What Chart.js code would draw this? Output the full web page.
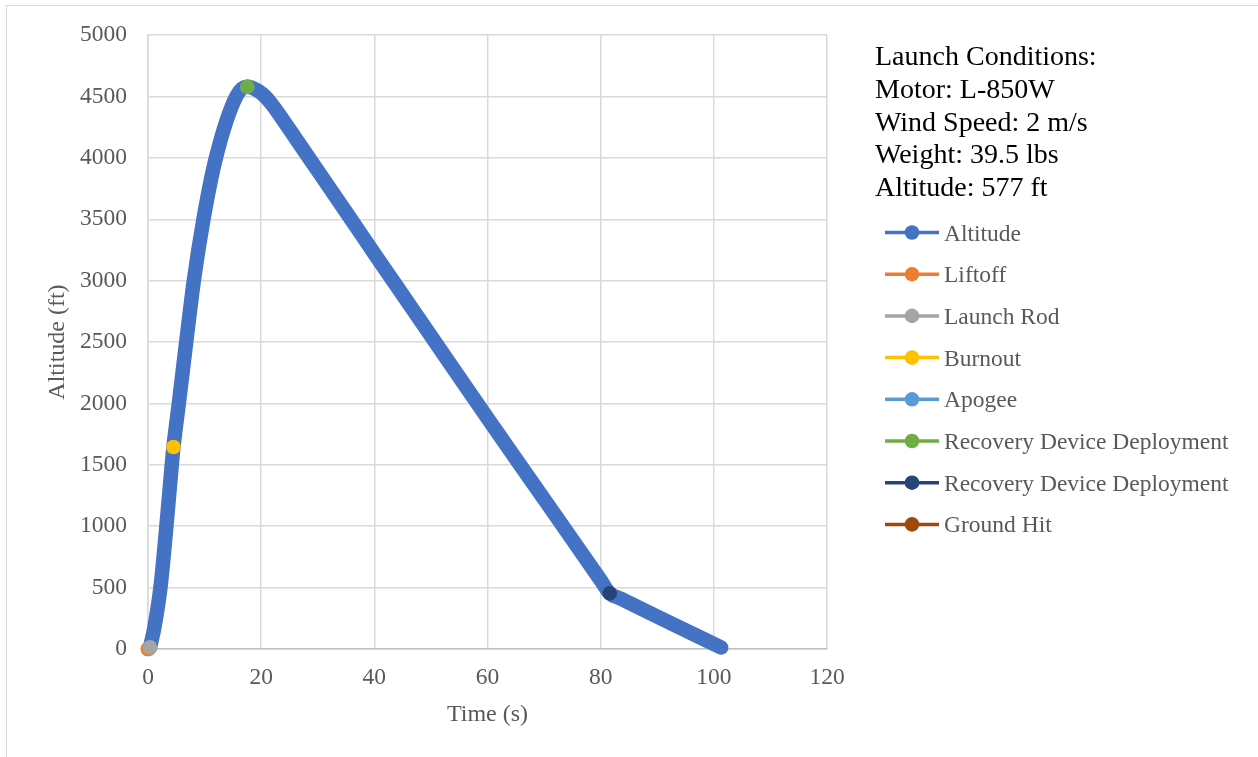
<!DOCTYPE html>
<html>
<head>
<meta charset="utf-8">
<script src="https://cdn.jsdelivr.net/npm/chart.js@4.4.1/dist/chart.umd.min.js"></script>
<style>
  html, body { margin: 0; padding: 0; background: #ffffff; }
  canvas { display: block; }
</style>
</head>
<body>
<canvas id="flight" width="1258" height="757"></canvas>
<script>
// Simulated flight profile: time (s) and altitude above pad (ft)
const timeS = [0, 0.35, 0.65, 1.15, 2.2, 3.25, 4.2, 4.5, 5.45, 6.75, 8.1, 9.8, 12.0, 15.6, 17.55,
               19.5, 20.7, 22.0, 24.0, 26.0, 28.6, 35.8, 40.3, 50.0, 60.0, 70.0, 80.0, 81.6,
               83.5, 91.5, 101.3];
const altitudeFt = [0, 14, 73, 182, 500, 1000, 1500, 1645, 2000, 2500, 3000, 3500, 4000, 4500, 4579,
                    4545, 4500, 4430, 4300, 4165, 3990, 3505, 3200, 2550, 1880, 1220, 560, 453,
                    411, 230, 12];

// Flight events
const eventLabels = ['Liftoff', 'Launch Rod', 'Burnout', 'Apogee',
                     'Recovery Device Deployment', 'Recovery Device Deployment', 'Ground Hit'];
const eventTimes = [[0], [0.35], [4.5], [17.55], [17.55], [81.6], []];
const eventAltitudes = [[0], [14], [1645], [4579], [4579], [453], []];

const launchConditions = ['Launch Conditions:', 'Motor: L-850W', 'Wind Speed: 2 m/s',
                          'Weight: 39.5 lbs', 'Altitude: 577 ft'];

const xAxis = { min: 0, max: 120, step: 20 };
const yAxis = { min: 0, max: 5000, step: 500 };

// Styling
const seriesColor = '#4472C4';
const eventColors = ['#ED7D31', '#A5A5A5', '#FFC000', '#5B9BD5', '#70AD47', '#264478', '#9E480E'];
const FONT = '"Liberation Serif", "Times New Roman", serif';
const TEXT_GREY = '#595959';

const toPoints = (xs, ys) => xs.map((x, i) => ({ x: x, y: ys[i] }));

const datasets = [{
  label: 'Altitude',
  data: toPoints(timeS, altitudeFt),
  showLine: true,
  borderColor: seriesColor,
  backgroundColor: seriesColor,
  borderWidth: 14.5,
  borderCapStyle: 'round',
  borderJoinStyle: 'round',
  cubicInterpolationMode: 'monotone',
  pointRadius: 0,
  clip: false,
  order: 10
}];
eventLabels.forEach((name, i) => {
  datasets.push({
    label: name,
    data: toPoints(eventTimes[i], eventAltitudes[i]),
    showLine: false,
    borderColor: eventColors[i],
    backgroundColor: eventColors[i],
    pointRadius: 7.3,
    pointBorderWidth: 0,
    clip: false,
    order: 9 - i
  });
});

// Frame, launch-condition notes and series key on the right
const sidePanel = {
  id: 'sidePanel',
  beforeDraw(chart) {
    const ctx = chart.ctx;
    ctx.save();
    ctx.fillStyle = '#ffffff';
    ctx.fillRect(0, 0, chart.width, chart.height);
    ctx.strokeStyle = '#d9d9d9';
    ctx.lineWidth = 1;
    ctx.strokeRect(6.5, 5.5, 1400, 900);
    ctx.restore();
  },
  afterDraw(chart) {
    const ctx = chart.ctx;
    ctx.save();
    ctx.fillStyle = '#000000';
    ctx.font = '28px ' + FONT;
    ctx.textAlign = 'left';
    ctx.textBaseline = 'alphabetic';
    launchConditions.forEach((line, i) => ctx.fillText(line, 875, 65 + i * 32.8));

    ctx.font = '23.5px ' + FONT;
    chart.data.datasets.forEach((ds, i) => {
      const cy = 232.5 + i * 41.7;
      ctx.strokeStyle = ds.borderColor;
      ctx.lineWidth = 3.5;
      ctx.beginPath();
      ctx.moveTo(885, cy);
      ctx.lineTo(939, cy);
      ctx.stroke();
      ctx.fillStyle = ds.borderColor;
      ctx.beginPath();
      ctx.arc(912, cy, 7.3, 0, Math.PI * 2);
      ctx.fill();
      ctx.fillStyle = TEXT_GREY;
      ctx.fillText(ds.label, 944, cy + 8);
    });
    ctx.restore();
  }
};

new Chart(document.getElementById('flight'), {
  type: 'scatter',
  data: { datasets: datasets },
  plugins: [sidePanel],
  options: {
    responsive: false,
    animation: false,
    events: [],
    layout: { padding: { left: 0, top: 35, right: 431, bottom: 0 } },
    plugins: { legend: { display: false }, tooltip: { enabled: false } },
    scales: {
      x: {
        type: 'linear',
        min: xAxis.min, max: xAxis.max,
        afterFit: s => { s.height = 108; },
        ticks: { stepSize: xAxis.step, padding: 15, color: TEXT_GREY,
                 font: { family: FONT, size: 23.5 }, callback: v => String(v) },
        grid: { color: '#d9d9d9', lineWidth: 1.5, drawTicks: false },
        border: { color: '#bfbfbf', width: 1.5 },
        title: { display: true, text: 'Time (s)', color: TEXT_GREY,
                 font: { family: FONT, size: 24 }, padding: { top: 0, bottom: 28 } }
      },
      y: {
        min: yAxis.min, max: yAxis.max,
        afterFit: s => { s.width = 148; },
        ticks: { stepSize: yAxis.step, padding: 21, color: TEXT_GREY,
                 font: { family: FONT, size: 23.5 }, callback: v => String(v) },
        grid: { color: '#d9d9d9', lineWidth: 1.5, drawTicks: false },
        border: { color: '#d9d9d9', width: 1.5 },
        title: { display: true, text: 'Altitude (ft)', color: TEXT_GREY,
                 font: { family: FONT, size: 24 }, padding: { top: 43, bottom: 0 } }
      }
    }
  }
});
</script>
</body>
</html>
